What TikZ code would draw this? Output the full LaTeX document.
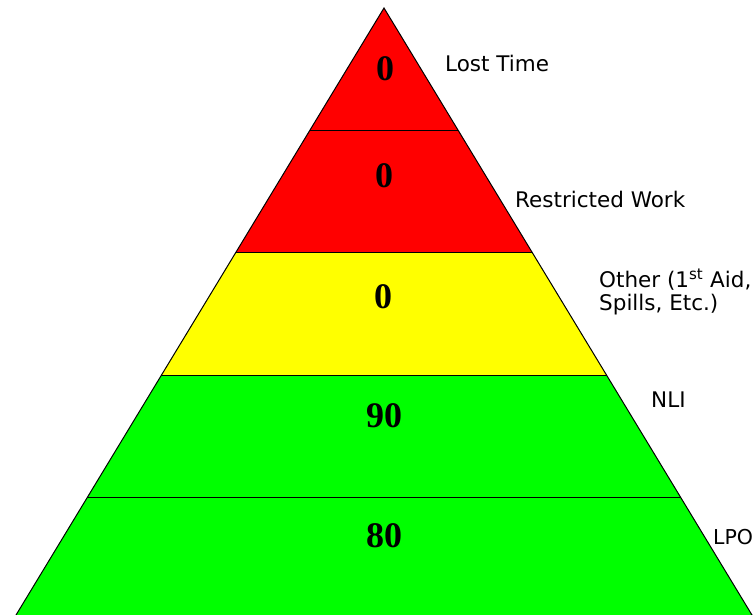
\documentclass[tikz,border=0pt]{standalone}
\usepackage{fontspec}
\setmainfont{Liberation Serif}
\newfontfamily\labfont{DejaVu Sans}
\usetikzlibrary{calc}
\definecolor{bandred}{RGB}{255,0,0}
\definecolor{bandyellow}{RGB}{255,255,0}
\definecolor{bandgreen}{RGB}{0,255,0}
\tikzset{
  band/.style={draw=black, line width=1pt, line join=miter},
  num/.style={inner sep=0pt, anchor=center, font=\fontsize{36}{36}\selectfont\bfseries},
  lab/.style={inner sep=0pt, anchor=base west, align=left, font=\labfont\fontsize{21.5}{23}\selectfont},
}
\begin{document}
\begin{tikzpicture}[x=1pt, y=-1pt]
\useasboundingbox (0,0) rectangle (756,615);
\clip (0,0) rectangle (756,615);
\coordinate (apex) at (384,8);
\coordinate (bl) at (13,620);
\coordinate (br) at (755,620);
\foreach \i/\t in {1/0.2,2/0.4,3/0.6,4/0.8}{
  \coordinate (l\i) at ($(apex)!\t!(bl)$);
  \coordinate (r\i) at ($(apex)!\t!(br)$);
}
\fill[bandred] (apex) -- (r2) -- (l2) -- cycle;
\fill[bandyellow] (l2) -- (r2) -- (r3) -- (l3) -- cycle;
\fill[bandgreen] (l3) -- (r3) -- (br) -- (bl) -- cycle;
\draw[band] (apex) -- (br) -- (bl) -- cycle;
\draw[band] (l1) -- (r1);
\draw[band] (l2) -- (r2);
\draw[band] (l3) -- (r3);
\draw[band] (l4) -- (r4);
\node[num] (n1) at (385,69) {0};
\node[num] (n2) at (384,176) {0};
\node[num] (n3) at (383,297) {0};
\node[num] (n4) at (384,416) {90};
\node[num] (n5) at (384,536) {80};
\node[lab] (t1) at (445,72) {Lost Time};
\node[lab] (t2) at (515,208) {Restricted Work};
\node[lab] (t3) at (599,310) {Other (1\textsuperscript{st} Aid,\\Spills, Etc.)};
\node[lab] (t4) at (651,407) {NLI};
\node[lab, font=\labfont\fontsize{20.5}{23}\selectfont] (t5) at (713,544) {LPO};
\end{tikzpicture}
\end{document}
